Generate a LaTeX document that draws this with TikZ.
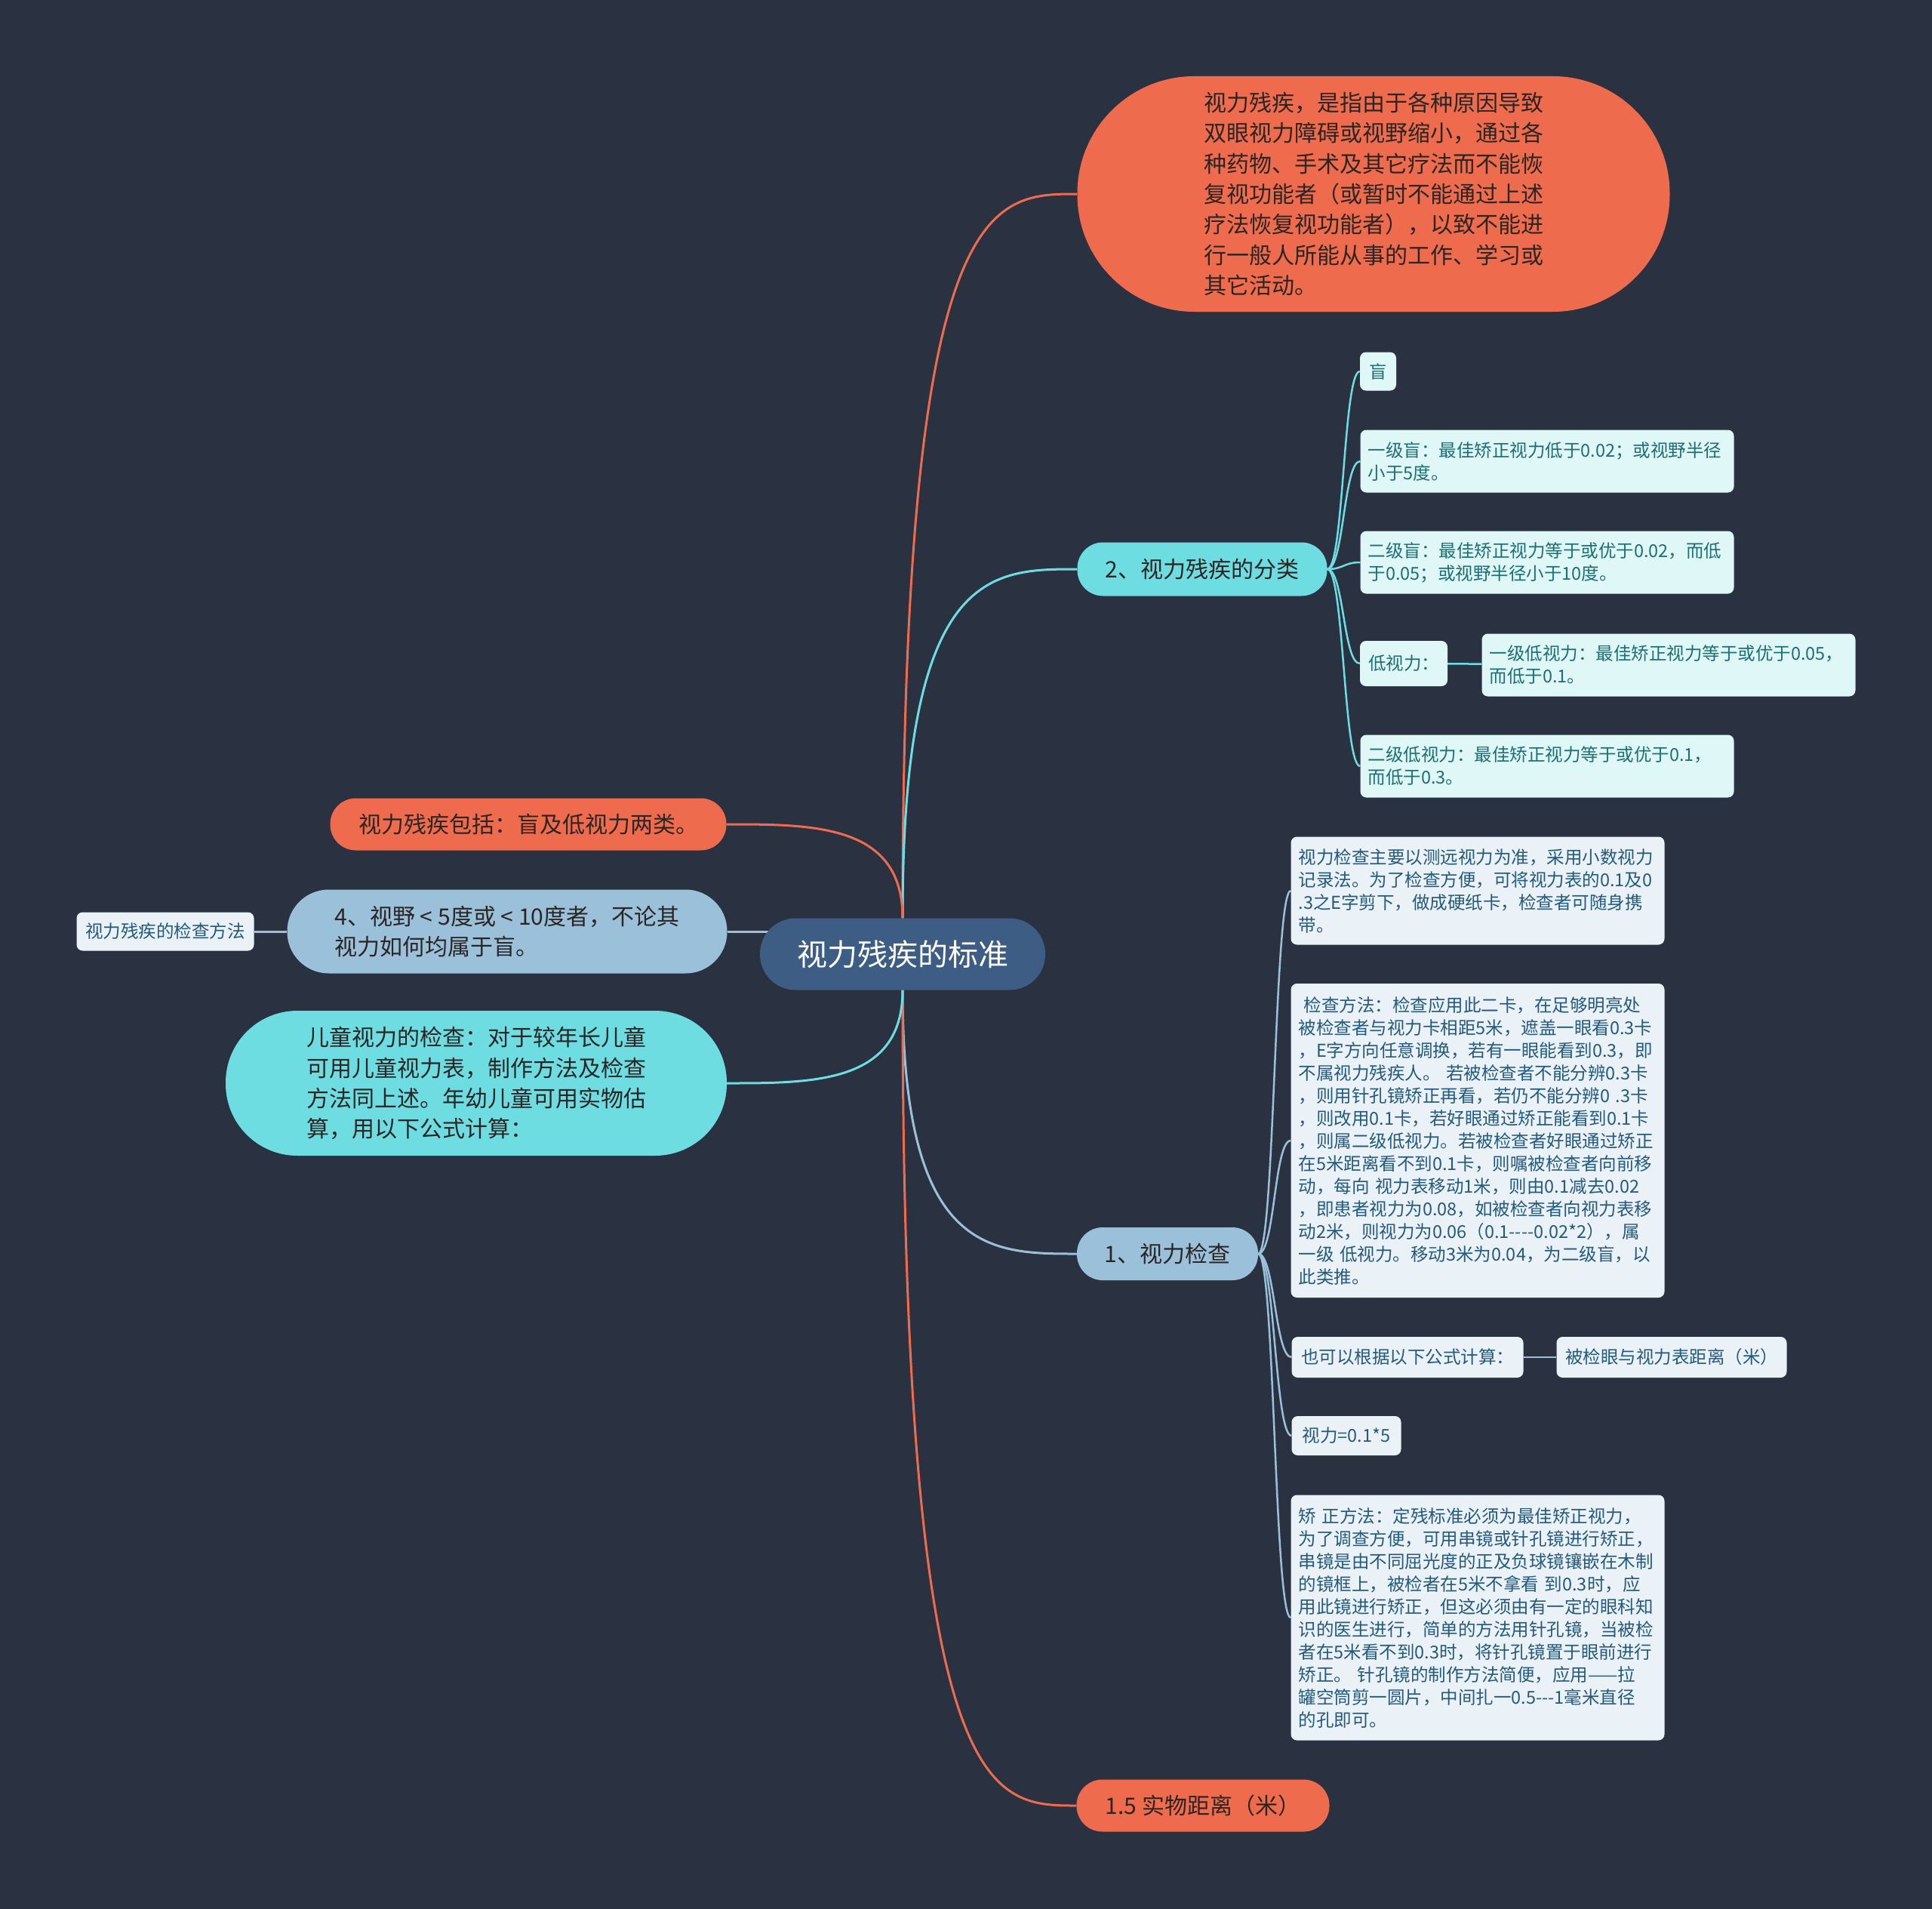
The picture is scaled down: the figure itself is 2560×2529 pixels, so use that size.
\documentclass[tikz,border=0pt]{standalone}
\usepackage{fontspec}
\newfontfamily\cjk{Noto Sans CJK SC}
\usepackage{xcolor}
\usepackage{tikz}
\usetikzlibrary{backgrounds,calc}
\definecolor{sfondo}{HTML}{2A3241}
\definecolor{arancio}{HTML}{EE6C4D}
\definecolor{ciano}{HTML}{6EDDE2}
\definecolor{azzurro}{HTML}{9AC0DA}
\definecolor{blunotte}{HTML}{3D5D85}
\definecolor{fondoC}{HTML}{E0F7F7}
\definecolor{fondoB}{HTML}{EAF2F8}
\definecolor{testoC}{HTML}{1C6F73}
\definecolor{testoB}{HTML}{245A7F}
\definecolor{scuro}{HTML}{2B2524}
\tikzset{
  mappa/.style={x=1pt,y=-1pt},
  radice/.style={fill=blunotte,text=white,font=\cjk\fontsize{40}{48}\selectfont,
    minimum width=378pt,minimum height=95pt,rounded corners=47pt},
  ramo/.style={font=\cjk\fontsize{30}{40.3}\selectfont,text=scuro,align=left,
    inner sep=4pt,rounded corners=34pt},
  ramoR/.style={ramo,fill=arancio},
  ramoC/.style={ramo,fill=ciano},
  ramoB/.style={ramo,fill=azzurro},
  foglia/.style={font=\cjk\fontsize{23.5}{30}\selectfont,align=left,
    inner xsep=10pt,inner ysep=4pt,rounded corners=8pt},
  fogliaC/.style={foglia,fill=fondoC,text=testoC},
  fogliaB/.style={foglia,fill=fondoB,text=testoB},
  larga/.style={text width=475pt},
  filoR/.style={draw=arancio,line width=3pt},
  filoC/.style={draw=ciano,line width=3pt},
  filoB/.style={draw=azzurro,line width=3pt},
  curva/.style={to path={.. controls (\tikztostart |- \tikztotarget)
    and ($(\tikztostart |- \tikztotarget)!0.5!(\tikztotarget)$) .. (\tikztotarget)}},
  esse/.style={to path={.. controls ([xshift=22pt]\tikztostart) and ([xshift=-22pt]\tikztotarget) .. (\tikztotarget)}}
}
\begin{document}
\begin{tikzpicture}[mappa]
\useasboundingbox (0,0) rectangle (2560,2529);
\node[radice] (c) at (1196,1264) {视力残疾的标准};

% rami a destra
\node[ramoR,minimum width=785pt,minimum height=312pt,rounded corners=155pt] (t) at (1820,257)
  {视力残疾，是指由于各种原因导致\\双眼视力障碍或视野缩小，通过各\\种药物、手术及其它疗法而不能恢\\复视功能者（或暂时不能通过上述\\疗法恢复视功能者），以致不能进\\行一般人所能从事的工作、学习或\\其它活动。};
\node[ramoC,minimum width=331pt,minimum height=71pt] (n2) at (1593,754) {2、视力残疾的分类};
\node[ramoB,minimum width=240pt,minimum height=70pt] (n1) at (1547,1661) {1、视力检查};
\node[ramoR,minimum width=335pt,minimum height=69pt] (n15) at (1594,2392) {1.5 实物距离（米）};

% rami a sinistra
\node[ramoR,minimum width=525pt,minimum height=69pt] (p) at (700,1092) {视力残疾包括：盲及低视力两类。};
\node[ramoB,minimum width=583pt,minimum height=111pt,rounded corners=55pt] (q) at (672,1234)
  {4、视野 < 5度或 < 10度者，不论其\\视力如何均属于盲。};
\node[ramoC,minimum width=664pt,minimum height=192pt,rounded corners=95pt] (k) at (631,1435)
  {儿童视力的检查：对于较年长儿童\\可用儿童视力表，制作方法及检查\\方法同上述。年幼儿童可用实物估\\算，用以下公式计算：};
\node[fogliaB,minimum width=235pt,minimum height=51pt] (m) at (219,1234) {视力残疾的检查方法};

% classificazione
\node[fogliaC,minimum width=48pt,minimum height=51pt] (cieco) at (1826,492) {盲};
\node[fogliaC,larga,minimum height=83pt] (g1) at (2050,611) {一级盲：最佳矫正视力低于0.02；或视野半径\\小于5度。};
\node[fogliaC,larga,minimum height=83pt] (g2) at (2050,745) {二级盲：最佳矫正视力等于或优于0.02，而低\\于0.05；或视野半径小于10度。};
\node[fogliaC,minimum width=116pt,minimum height=60pt] (lv) at (1860,879) {低视力：};
\node[fogliaC,larga,minimum height=83pt] (lv1) at (2211,881) {一级低视力：最佳矫正视力等于或优于0.05，\\而低于0.1。};
\node[fogliaC,larga,minimum height=83pt] (lv2) at (2050,1015) {二级低视力：最佳矫正视力等于或优于0.1，\\而低于0.3。};

% esame
\node[fogliaB,larga,minimum height=143pt] (e1) at (1958,1180)
  {视力检查主要以测远视力为准，采用小数视力\\记录法。为了检查方便，可将视力表的0.1及0\\.3之E字剪下，做成硬纸卡，检查者可随身携\\带。};
\node[fogliaB,larga,minimum height=416pt] (e2) at (1958,1511)
  {\hspace*{0.3em}检查方法：检查应用此二卡，在足够明亮处\\被检查者与视力卡相距5米，遮盖一眼看0.3卡\\，E字方向任意调换，若有一眼能看到0.3，即\\不属视力残疾人。 若被检查者不能分辨0.3卡\\，则用针孔镜矫正再看，若仍不能分辨0 .3卡\\，则改用0.1卡，若好眼通过矫正能看到0.1卡\\，则属二级低视力。若被检查者好眼通过矫正\\在5米距离看不到0.1卡，则嘱被检查者向前移\\动，每向 视力表移动1米，则由0.1减去0.02\\，即患者视力为0.08，如被检查者向视力表移\\动2米，则视力为0.06（0.1----0.02*2），属\\一级 低视力。移动3米为0.04，为二级盲，以\\此类推。};
\node[fogliaB,minimum width=307pt,minimum height=54pt] (e3) at (1865,1798) {也可以根据以下公式计算：};
\node[fogliaB,minimum width=305pt,minimum height=54pt] (e3b) at (2215,1798) {被检眼与视力表距离（米）};
\node[fogliaB,minimum width=145pt,minimum height=52pt] (e4) at (1784,1902) {视力=0.1*5};
\node[fogliaB,larga,minimum height=325pt] (e5) at (1958,2143)
  {矫 正方法：定残标准必须为最佳矫正视力，\\为了调查方便，可用串镜或针孔镜进行矫正，\\串镜是由不同屈光度的正及负球镜镶嵌在木制\\的镜框上，被检者在5米不拿看 到0.3时，应\\用此镜进行矫正，但这必须由有一定的眼科知\\识的医生进行，简单的方法用针孔镜，当被检\\者在5米看不到0.3时，将针孔镜置于眼前进行\\矫正。 针孔镜的制作方法简便，应用——拉\\罐空筒剪一圆片，中间扎一0.5---1毫米直径\\的孔即可。};

\begin{scope}[on background layer]
  \fill[sfondo] (0,0) rectangle (2560,2529);
  \draw[filoR] (c.north) to[curva] (t.west);
  \draw[filoC] (c.north) to[curva] (n2.west);
  \draw[filoB] (c.south) to[curva] (n1.west);
  \draw[filoR] (c.south) to[curva] (n15.west);
  \draw[filoR] (c.north) to[curva] (p.east);
  \draw[filoB] (q.east) -- (q.east -| c.center);
  \draw[filoC] (c.south) to[curva] (k.east);
  \draw[filoB] (m) -- (q);
  \foreach \f in {cieco,g1,g2,lv,lv2}
    \draw[filoC,line width=2.5pt] (n2.east) to[esse] (\f.west);
  \draw[filoC,line width=2.5pt] (lv) -- (lv1);
  \foreach \f in {e1,e2,e3,e4,e5}
    \draw[filoB,line width=2.5pt] (n1.east) to[esse] (\f.west);
  \draw[filoB,line width=2.5pt] (e3) -- (e3b);
\end{scope}
\end{tikzpicture}
\end{document}
